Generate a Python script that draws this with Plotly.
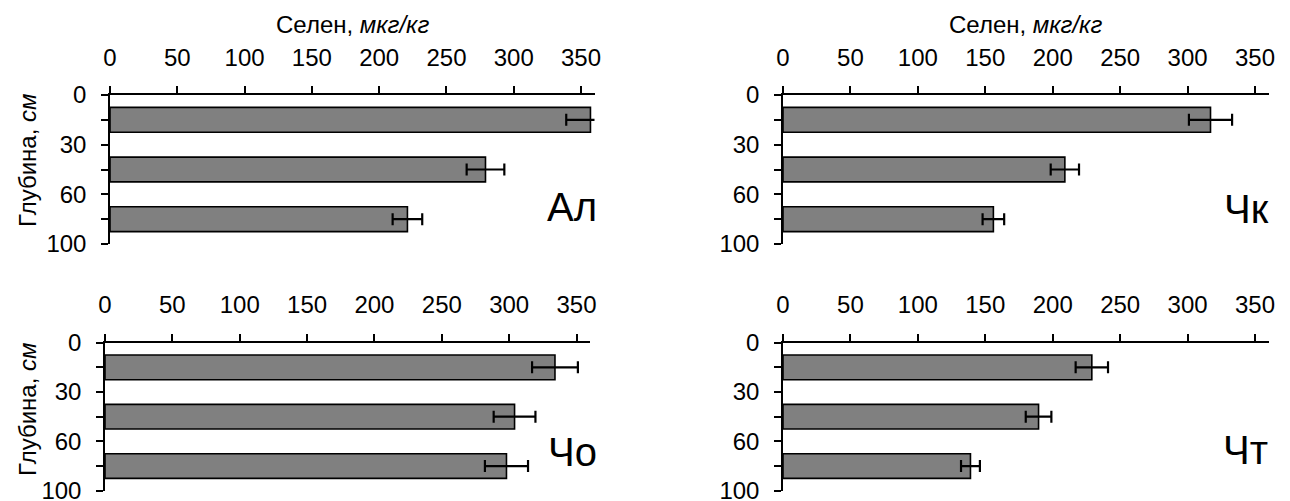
import plotly.graph_objects as go

# Selenium content by soil depth layer for four sites
sites = ["Ал", "Чк", "Чо", "Чт"]
depth_ticks = ["0", "30", "60", "100"]
x_ticks = [0, 50, 100, 150, 200, 250, 300, 350]

se_al = [357, 279, 221]
se_chk = [317, 209, 156]
se_cho = [334, 304, 298]
se_cht = [229, 189.5, 139]

err_al = [18, 14, 11]
err_chk = [16, 10.5, 8]
err_cho = [17, 15.5, 16]
err_cht = [12, 9.5, 7]

values = [se_al, se_chk, se_cho, se_cht]
errors = [err_al, err_chk, err_cho, err_cht]

W, H = 1290, 501
FONT = "Liberation Sans, Arial, sans-serif"


def px(xp):
    return xp / W


def py(yp):
    return 1 - yp / H


# panel placement in pixels: (left, right, top, bottom)
panels = [
    (110, 594.5, 95, 244),
    (783, 1268.5, 95, 244),
    (105, 590, 342.7, 490.7),
    (783, 1268.5, 342.7, 490.7),
]

fig = go.Figure()
layout = {}
n_layers = len(depth_ticks) - 1
ytickvals = [i * 0.5 for i in range(2 * n_layers + 1)]
yticktext = []
for i in range(2 * n_layers + 1):
    yticktext.append(depth_ticks[i // 2] if i % 2 == 0 else "")

for k, site in enumerate(sites):
    sfx = "" if k == 0 else str(k + 1)
    l, r, t, b = panels[k]
    fig.add_trace(go.Bar(
        x=values[k],
        y=[i + 0.5 for i in range(n_layers)],
        orientation="h",
        width=0.5,
        marker=dict(color="#808080", line=dict(color="black", width=1.6)),
        error_x=dict(type="data", array=errors[k], color="black",
                     thickness=2.2, width=6),
        xaxis="x" + sfx, yaxis="y" + sfx,
        hoverinfo="skip",
    ))
    layout["xaxis" + sfx] = dict(
        domain=[px(l), px(r)], range=[0, 360], side="top", anchor="y" + sfx,
        tickvals=x_ticks, ticks="outside", ticklen=7, tickwidth=1.5,
        tickcolor="black", showline=True, linecolor="black", linewidth=1.5,
        showgrid=False, zeroline=False, ticklabelstandoff=11, automargin=False,
        ticklabeloverflow="allow",
        tickfont=dict(family=FONT, size=24, color="black"), fixedrange=True,
    )
    layout["yaxis" + sfx] = dict(
        domain=[py(b), py(t)], range=[n_layers, 0], anchor="x" + sfx,
        tickvals=ytickvals, ticktext=yticktext, ticks="outside", ticklen=7,
        tickwidth=1.5, tickcolor="black", showline=True, linecolor="black",
        linewidth=1.5, showgrid=False, zeroline=False, ticklabelstandoff=10,
        automargin=False, ticklabeloverflow="allow",
        tickfont=dict(family=FONT, size=24, color="black"), fixedrange=True,
    )

annotations = []
# x-axis titles above the top panels
for k in (0, 1):
    l, r, t, b = panels[k]
    annotations.append(dict(
        x=px((l + r) / 2), y=py(25), xref="paper", yref="paper",
        text="Селен, <i>мкг/кг</i>", showarrow=False,
        xanchor="center", yanchor="middle",
        font=dict(family=FONT, size=24, color="black"),
    ))
# depth titles on the left panels
for k, yc in ((0, 161), (2, 410)):
    annotations.append(dict(
        x=px(27), y=py(yc), xref="paper", yref="paper",
        text="Глубина, <i>см</i>", showarrow=False, textangle=-90,
        xanchor="center", yanchor="middle",
        font=dict(family=FONT, size=24, color="black"),
    ))
# site labels
label_pos = [(599, 207), (1271, 209), (599, 452), (1270, 450)]
for k, site in enumerate(sites):
    xr, yc = label_pos[k]
    annotations.append(dict(
        x=px(xr), y=py(yc), xref="paper", yref="paper",
        text=site, showarrow=False, xanchor="right", yanchor="middle",
        font=dict(family=FONT, size=40, color="black"),
    ))

fig.update_layout(
    template="none",
    width=W, height=H, margin=dict(l=0, r=0, t=0, b=0, autoexpand=False),
    paper_bgcolor="white", plot_bgcolor="white", showlegend=False,
    annotations=annotations, **layout,
)

fig.write_html("out.html")
